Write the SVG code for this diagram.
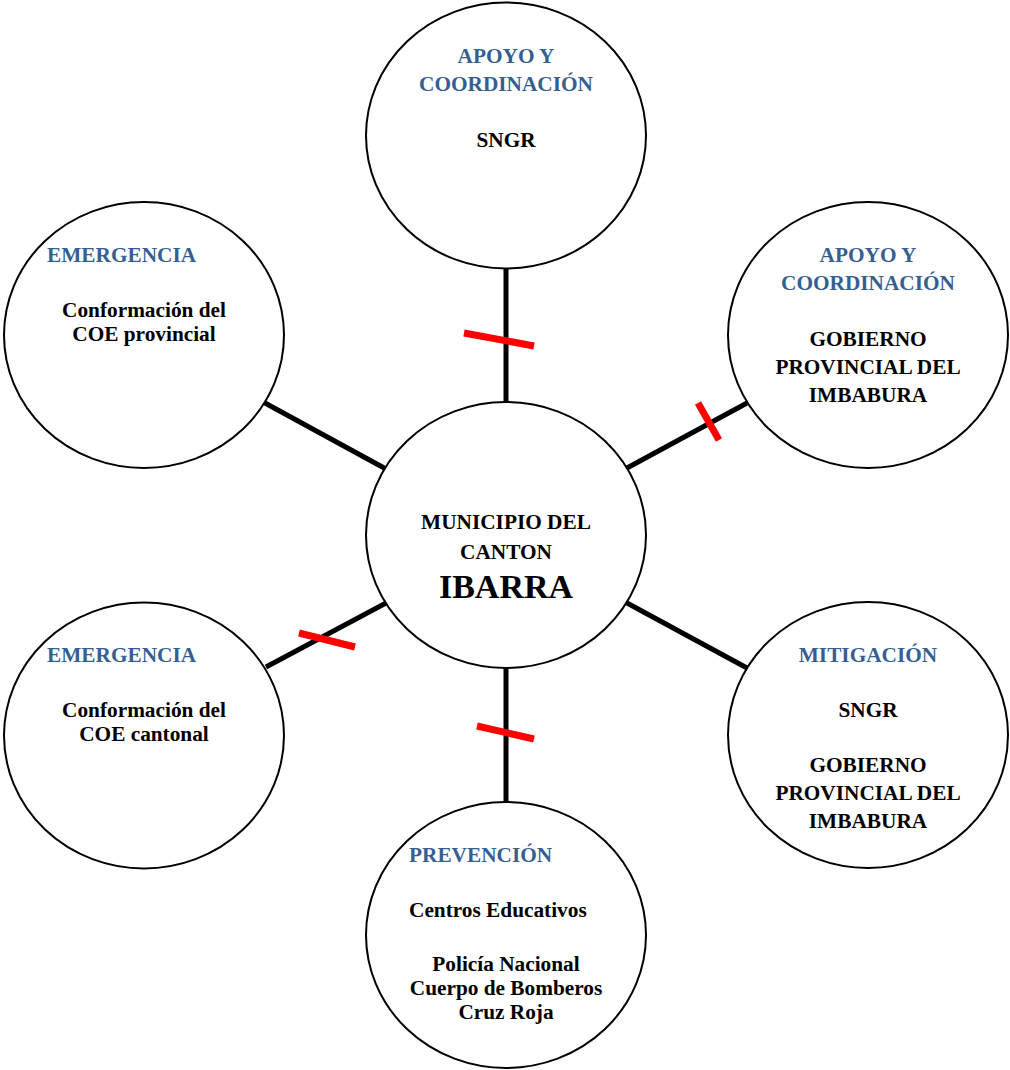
<svg xmlns="http://www.w3.org/2000/svg" width="1010" height="1070" viewBox="0 0 1010 1070">
<style>
.c{fill:#fff;stroke:#000;stroke-width:2}
.t{font-family:"Liberation Serif","Times New Roman",serif;font-weight:bold;font-size:21.3px;fill:#000;text-anchor:middle}
.h{fill:#365F91}
.l{text-anchor:start}
.k{stroke:#000;stroke-width:5;fill:none}
.r{stroke:#FF0000;stroke-width:7;fill:none}
</style>
<rect width="1010" height="1070" fill="#fff"/>
<g id="connectors">
<line class="k" x1="506" y1="268" x2="506" y2="402"/>
<line class="k" x1="506" y1="668" x2="506" y2="802"/>
<line class="k" x1="265" y1="403" x2="386" y2="469"/>
<line class="k" x1="627" y1="468" x2="747" y2="403"/>
<line class="k" x1="386" y1="603" x2="266" y2="667"/>
<line class="k" x1="627" y1="603" x2="747" y2="668"/>
<line class="r" x1="464" y1="333" x2="534" y2="346"/>
<line class="r" x1="698" y1="403" x2="719" y2="440"/>
<line class="r" x1="299" y1="633" x2="355" y2="647"/>
<line class="r" x1="477" y1="726" x2="534" y2="739"/>
</g>
<g id="center">
<ellipse class="c" cx="506" cy="535" rx="140" ry="133"/>
<text class="t" x="506" y="529">MUNICIPIO DEL</text>
<text class="t" x="506" y="559">CANTON</text>
<text class="t" x="506" y="598" style="font-size:34px">IBARRA</text>
</g>
<g id="top">
<ellipse class="c" cx="506" cy="135.5" rx="140" ry="133"/>
<text class="t h" x="506" y="63">APOYO Y</text>
<text class="t h" x="506" y="91">COORDINACIÓN</text>
<text class="t" x="506" y="147">SNGR</text>
</g>
<g id="top-right">
<ellipse class="c" cx="868" cy="335" rx="140" ry="133"/>
<text class="t h" x="868" y="262">APOYO Y</text>
<text class="t h" x="868" y="290">COORDINACIÓN</text>
<text class="t" x="868" y="346">GOBIERNO</text>
<text class="t" x="868" y="374">PROVINCIAL DEL</text>
<text class="t" x="868" y="402">IMBABURA</text>
</g>
<g id="top-left">
<ellipse class="c" cx="144" cy="335" rx="140" ry="133"/>
<text class="t h l" x="47" y="262">EMERGENCIA</text>
<text class="t" x="144" y="317">Conformación del</text>
<text class="t" x="144" y="341">COE provincial</text>
</g>
<g id="bottom-left">
<ellipse class="c" cx="144" cy="735.5" rx="140" ry="133"/>
<text class="t h l" x="47" y="662">EMERGENCIA</text>
<text class="t" x="144" y="717">Conformación del</text>
<text class="t" x="144" y="741">COE cantonal</text>
</g>
<g id="bottom-right">
<ellipse class="c" cx="868" cy="735" rx="140" ry="133"/>
<text class="t h" x="868" y="662">MITIGACIÓN</text>
<text class="t" x="868" y="717">SNGR</text>
<text class="t" x="868" y="772">GOBIERNO</text>
<text class="t" x="868" y="800">PROVINCIAL DEL</text>
<text class="t" x="868" y="828">IMBABURA</text>
</g>
<g id="bottom">
<ellipse class="c" cx="506" cy="935" rx="140" ry="133"/>
<text class="t h l" x="409" y="862">PREVENCIÓN</text>
<text class="t l" x="409" y="917">Centros Educativos</text>
<text class="t" x="506" y="971">Policía Nacional</text>
<text class="t" x="506" y="995">Cuerpo de Bomberos</text>
<text class="t" x="506" y="1019">Cruz Roja</text>
</g>
</svg>
